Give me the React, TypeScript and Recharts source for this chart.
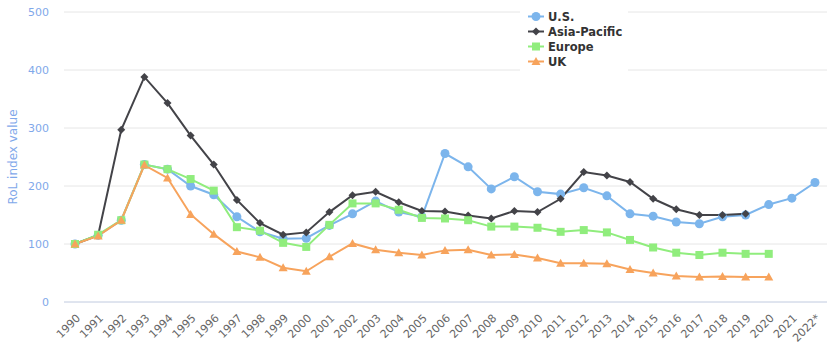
import { CartesianGrid, Label, Line, LineChart, XAxis, YAxis } from "recharts"

const years = [
  "1990", "1991", "1992", "1993", "1994", "1995", "1996", "1997", "1998", "1999",
  "2000", "2001", "2002", "2003", "2004", "2005", "2006", "2007", "2008", "2009",
  "2010", "2011", "2012", "2013", "2014", "2015", "2016", "2017", "2018", "2019",
  "2020", "2021", "2022*",
]

const us = [
  100, 115, 141, 237, 229, 200, 185, 147, 121, 109, 110, 132, 152, 174, 155, 147,
  256, 233, 195, 216, 190, 186, 197, 183, 152, 148, 138, 135, 147, 150, 168, 179, 206,
]

const asiaPacific = [
  100, 115, 297, 388, 343, 287, 237, 176, 136, 116, 120, 155, 184, 190, 172, 157,
  156, 149, 144, 157, 155, 178, 224, 218, 207, 178, 160, 150, 150, 152,
]

const europe = [
  100, 116, 141, 237, 229, 212, 192, 129, 123, 102, 95, 133, 170, 170, 159, 145,
  144, 141, 130, 130, 128, 121, 124, 120, 107, 94, 85, 81, 85, 83, 83,
]

const uk = [
  100, 114, 141, 236, 214, 151, 117, 87, 77, 59, 53, 78, 101, 90, 85, 81,
  89, 90, 81, 82, 76, 67, 67, 66, 56, 50, 45, 43, 44, 43, 43,
]

const yTicks = [0, 100, 200, 300, 400, 500]

const data = years.map((year, i) => ({
  year,
  us: us[i] ?? null,
  asia: asiaPacific[i] ?? null,
  europe: europe[i] ?? null,
  uk: uk[i] ?? null,
}))

const FONT = "'DejaVu Sans', Verdana, sans-serif"

const series = [
  { key: "us", name: "U.S.", color: "#7cb5ec", shape: "circle" },
  { key: "asia", name: "Asia-Pacific", color: "#434348", shape: "diamond" },
  { key: "europe", name: "Europe", color: "#90ed7d", shape: "square" },
  { key: "uk", name: "UK", color: "#f7a35c", shape: "triangle" },
]

function Marker({ cx, cy, shape, color }: { cx: number; cy: number; shape: string; color: string }) {
  if (shape === "circle") return <circle cx={cx} cy={cy} r={4.5} fill={color} />
  if (shape === "diamond")
    return <path d={`M${cx},${cy - 4} L${cx + 4},${cy} L${cx},${cy + 4} L${cx - 4},${cy} Z`} fill={color} />
  if (shape === "square") return <rect x={cx - 4} y={cy - 4} width={8} height={8} fill={color} />
  return <path d={`M${cx},${cy - 4.5} L${cx + 4.5},${cy + 3.5} L${cx - 4.5},${cy + 3.5} Z`} fill={color} />
}

function makeDot(shape: string, color: string) {
  return (props: any) => {
    const { cx, cy, index, value } = props
    if (cy == null || cx == null || value == null) return <g key={index} />
    return <Marker key={index} cx={cx} cy={cy} shape={shape} color={color} />
  }
}

function YearTick({ x, y, payload }: any) {
  return (
    <g transform={`translate(${x + 3},${y + 6})`}>
      <text textAnchor="end" transform="rotate(-45)" fontSize={11} fill="#666" fontFamily={FONT} dy={4}>
        {payload.value}
      </text>
    </g>
  )
}

function LegendBox() {
  return (
    <div style={{ position: "absolute", left: 520, top: 6, background: "#fff", width: 108, padding: "3px 0 7px 0" }}>
      {series.map((s) => (
        <div key={s.key} style={{ display: "flex", alignItems: "center", height: 15 }}>
          <svg width={28} height={15}>
            <line x1={8} x2={24} y1={7.5} y2={7.5} stroke={s.color} strokeWidth={2} />
            <Marker cx={16} cy={7.5} shape={s.shape} color={s.color} />
          </svg>
          <span style={{ fontFamily: FONT, fontWeight: "bold", fontSize: 11.5, color: "#333" }}>{s.name}</span>
        </div>
      ))}
    </div>
  )
}

export default function App() {
  return (
    <div style={{ position: "absolute", left: 0, top: 0, width: 832, height: 345, background: "#fff" }}>
      <LineChart width={832} height={345} data={data} margin={{ top: 12, right: 5, bottom: 0, left: 0 }}>
        <CartesianGrid vertical={false} stroke="#e6e6e6" />
        <XAxis
          dataKey="year"
          interval={0}
          padding={{ left: 11, right: 12 }}
          tick={<YearTick />}
          tickLine={false}
          axisLine={{ stroke: "#ccd6eb" }}
          height={43}
        />
        <YAxis
          domain={[0, 500]}
          ticks={yTicks}
          width={64}
          axisLine={false}
          tickLine={false}
          tickMargin={9}
          tick={{ fontSize: 11, fill: "#7fa8ea", fontFamily: FONT }}
        >
          <Label
            value="RoL index value"
            angle={-90}
            position="insideLeft"
            offset={13}
            style={{ textAnchor: "middle", fontSize: 12, fill: "#7fa8ea", fontFamily: FONT }}
          />
        </YAxis>
        {series.map((s) => (
          <Line
            key={s.key}
            dataKey={s.key}
            name={s.name}
            stroke={s.color}
            strokeWidth={2}
            dot={makeDot(s.shape, s.color)}
            activeDot={false}
            isAnimationActive={false}
          />
        ))}
      </LineChart>
      <LegendBox />
    </div>
  )
}
